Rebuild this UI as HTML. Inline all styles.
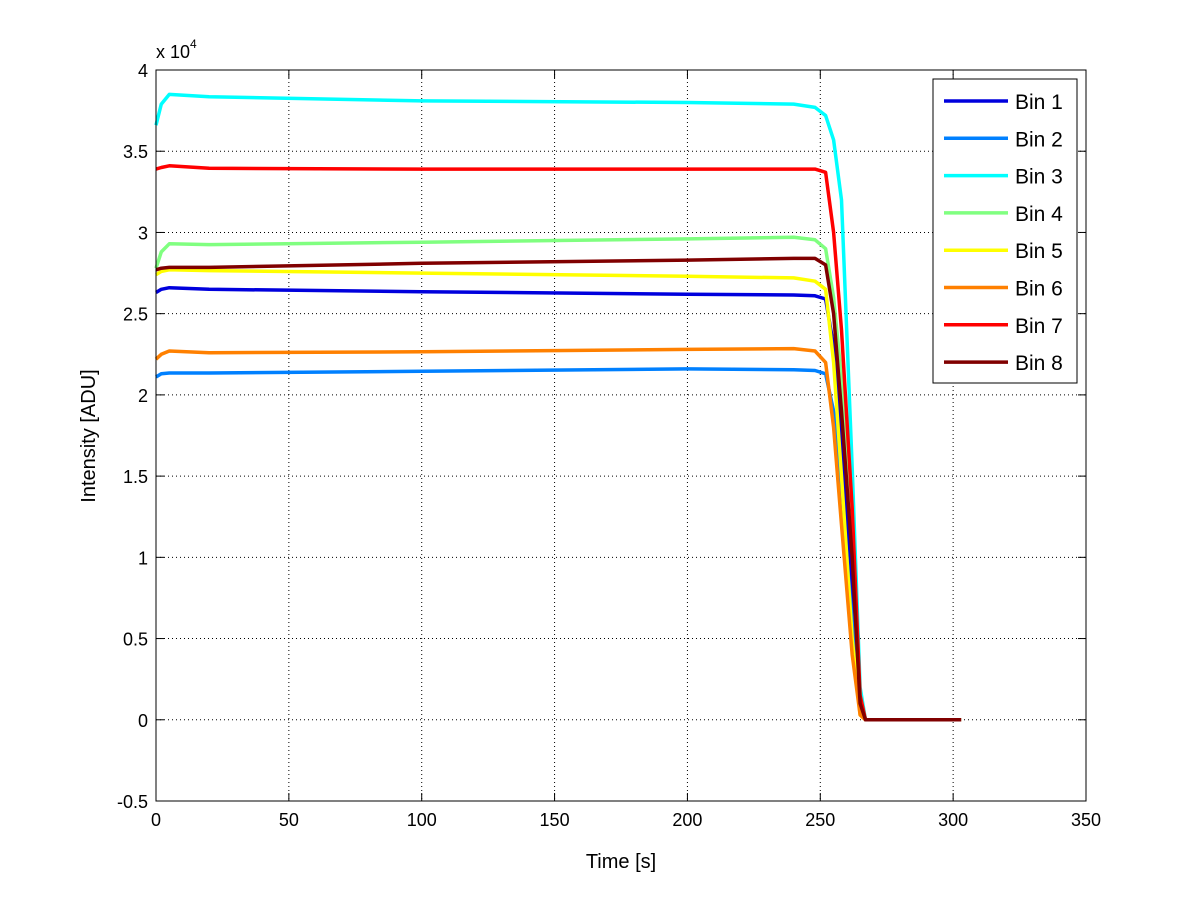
<!DOCTYPE html>
<html><head><meta charset="utf-8"><style>
html,body{margin:0;padding:0;background:#fff;}
svg{display:block;font-family:"Liberation Sans",sans-serif;}
</style></head><body>
<svg id="chart" width="1200" height="901" viewBox="0 0 1200 901">
<rect width="1200" height="901" fill="#fff"/>
<g id="grid"></g>
<g id="series"></g>
<rect x="156" y="70" width="930" height="731" fill="none" stroke="#000" stroke-width="1"/>
<g id="ticks"></g>
<text x="156" y="58" font-size="18">x 10<tspan dy="-10" font-size="12">4</tspan></text>
<text x="621" y="868" font-size="20" text-anchor="middle">Time [s]</text>
<text transform="translate(95,436) rotate(-90)" font-size="20" text-anchor="middle">Intensity [ADU]</text>
<g id="legend"></g>
</svg>
<script>
const times = [0,2,5,20,100,200,240,248,252,255,258,262,265,267,303];
const bin1 = [2.63,2.65,2.66,2.65,2.635,2.62,2.615,2.61,2.59,2.3,1.7,0.8,0.1,0,0];
const bin2 = [2.11,2.13,2.135,2.135,2.145,2.16,2.155,2.15,2.13,1.9,1.4,0.6,0.05,0,0];
const bin3 = [3.66,3.79,3.85,3.835,3.81,3.80,3.79,3.77,3.72,3.57,3.20,1.55,0.2,0,0];
const bin4 = [2.78,2.88,2.93,2.925,2.94,2.96,2.97,2.955,2.9,2.6,2.1,1.1,0.15,0,0];
const bin5 = [2.74,2.76,2.77,2.765,2.75,2.73,2.72,2.70,2.65,2.2,1.5,0.5,0.03,0,0];
const bin6 = [2.22,2.25,2.27,2.26,2.265,2.28,2.285,2.27,2.2,1.8,1.2,0.4,0.03,0,0];
const bin7 = [3.39,3.40,3.41,3.395,3.39,3.39,3.39,3.39,3.37,3.0,2.4,1.3,0.15,0,0];
const bin8 = [2.77,2.78,2.785,2.785,2.81,2.83,2.84,2.84,2.80,2.5,1.9,1.0,0.1,0,0];
const seriesNames = ["Bin 1","Bin 2","Bin 3","Bin 4","Bin 5","Bin 6","Bin 7","Bin 8"];
const xTicks = [0,50,100,150,200,250,300,350];
const yTicks = [-0.5,0,0.5,1,1.5,2,2.5,3,3.5,4];
const yTickLabels = ["-0.5","0","0.5","1","1.5","2","2.5","3","3.5","4"];

const colors = ["#0000dd","#0080ff","#00ffff","#80ff80","#ffff00","#ff8000","#ff0000","#800000"];
const allSeries = [bin1,bin2,bin3,bin4,bin5,bin6,bin7,bin8];
const NS = "http://www.w3.org/2000/svg";
const X0=156,X1=1086,Y0=801,Y1=70;
function xs(t){return X0+(t-0)/(350-0)*(X1-X0);}
function ys(v){return Y0-(v+0.5)/(4.5)*(Y0-Y1);}
function mk(tag,attrs,parent){const e=document.createElementNS(NS,tag);for(const k in attrs)e.setAttribute(k,attrs[k]);parent.appendChild(e);return e;}

const grid=document.getElementById('grid'), ticks=document.getElementById('ticks');
xTicks.forEach((t,i)=>{
  const x=xs(t);
  if(i>0&&i<xTicks.length-1){const l=mk('line',{x1:x,x2:x,y1:Y1,y2:Y0,stroke:'#000','stroke-width':1,'stroke-dasharray':'1,3'},grid);
  
  }
  mk('line',{x1:x,x2:x,y1:Y0,y2:Y0-8,stroke:'#000'},ticks);
  mk('line',{x1:x,x2:x,y1:Y1,y2:Y1+8,stroke:'#000'},ticks);
  const tx=mk('text',{x:x,y:Y0+25,'font-size':18,'text-anchor':'middle'},ticks);
  tx.textContent=t;
  
  
});
yTicks.forEach((v,i)=>{
  const y=ys(v);
  if(i>0&&i<yTicks.length-1){const l=mk('line',{x1:X0,x2:X1,y1:y,y2:y,stroke:'#000','stroke-width':1,'stroke-dasharray':'1,3'},grid);
  
  }
  mk('line',{x1:X0,x2:X0+8,y1:y,y2:y,stroke:'#000'},ticks);
  mk('line',{x1:X1,x2:X1-8,y1:y,y2:y,stroke:'#000'},ticks);
  const tx=mk('text',{x:X0-8,y:y+7,'font-size':18,'text-anchor':'end'},ticks);
  tx.textContent=yTickLabels[i];
  
  
});

const sg=document.getElementById('series');
allSeries.forEach((vals,i)=>{
  const d=vals.map((v,j)=>(j?'L':'M')+xs(times[j]).toFixed(1)+','+ys(v).toFixed(1)).join(' ');
  const p=mk('path',{d:d,fill:'none',stroke:colors[i],'stroke-width':3.5,'stroke-linejoin':'round'},sg);
  
  
});

const lg=document.getElementById('legend');
const box=mk('rect',{x:933,y:79,width:144,height:304,fill:'#fff',stroke:'#000'},lg);


seriesNames.forEach((n,i)=>{
  const y=101+i*37.3;
  const g=mk('g',{},lg);
  
  
  mk('line',{x1:944,x2:1008,y1:y,y2:y,stroke:colors[i],'stroke-width':3.5},g);
  const t=mk('text',{x:1015,y:y+8,'font-size':21},g);
  t.textContent=n;
});
</script>
</body></html>
